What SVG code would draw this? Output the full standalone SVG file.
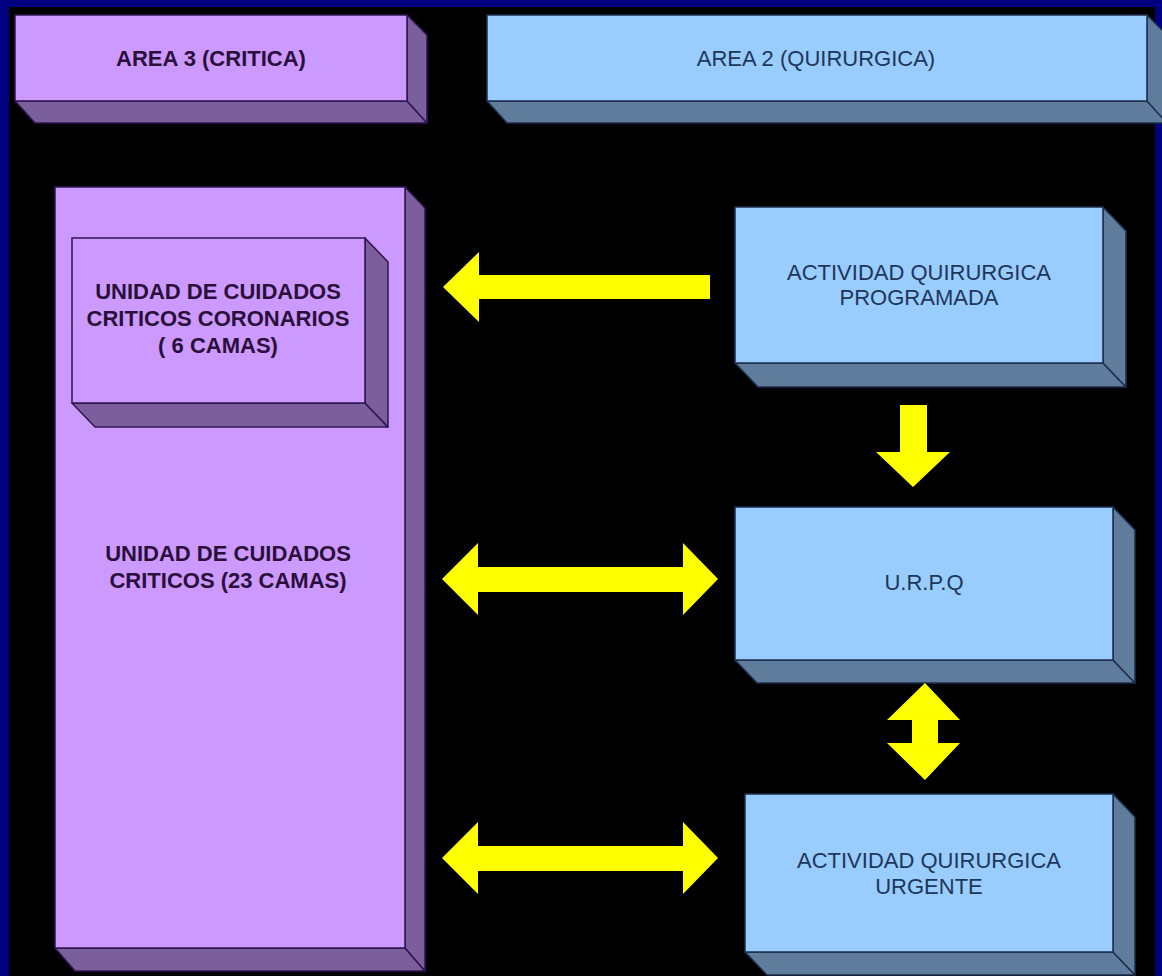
<svg xmlns="http://www.w3.org/2000/svg" width="1162" height="976" viewBox="0 0 1162 976">
  <defs>
    <style>
      .pf { fill: #CC99FF; stroke: #2E1450; stroke-width: 1.5; }
      .ps { fill: #7B5E9C; stroke: #2E1450; stroke-width: 1.5; stroke-linejoin: round; }
      .bf { fill: #99CCFF; stroke: #1C2E4C; stroke-width: 1.5; }
      .bs { fill: #5F7C9C; stroke: #1C2E4C; stroke-width: 1.5; stroke-linejoin: round; }
      .pt { font-family: "Liberation Sans", Arial, sans-serif; font-size: 22px; font-weight: bold; fill: #2A0F3A; text-anchor: middle; }
      .bt { font-family: "Liberation Sans", Arial, sans-serif; font-size: 22px; fill: #1E3658; text-anchor: middle; }
      .arrow { fill: #FFFF00; }
    </style>
  </defs>

  <!-- background: navy frame, black field -->
  <rect x="0" y="0" width="1162" height="976" fill="#000080"/>
  <rect x="9" y="7" width="1146" height="969" fill="#000000"/>

  <!-- AREA 3 header -->
  <g id="area3">
    <polygon class="ps" points="15,101 407,101 427,123 35,123"/>
    <polygon class="ps" points="407,15 427,35 427,123 407,101"/>
    <rect class="pf" x="15" y="15" width="392" height="86"/>
    <text class="pt" x="211" y="66">AREA 3 (CRITICA)</text>
  </g>

  <!-- AREA 2 header -->
  <g id="area2">
    <polygon class="bs" points="487,101 1147,101 1167,123 507,123"/>
    <polygon class="bs" points="1147,15 1167,35 1167,123 1147,101"/>
    <rect class="bf" x="487" y="15" width="660" height="86"/>
    <text class="bt" x="816" y="66">AREA 2 (QUIRURGICA)</text>
  </g>

  <!-- critical care unit (large) -->
  <g id="uci">
    <polygon class="ps" points="55,948 405,948 425,971 75,971"/>
    <polygon class="ps" points="405,187 425,208 425,971 405,948"/>
    <rect class="pf" x="55" y="187" width="350" height="761"/>
    <text class="pt" x="228" y="561">UNIDAD DE CUIDADOS</text>
    <text class="pt" x="228" y="588">CRITICOS (23 CAMAS)</text>
  </g>

  <!-- coronary care unit (inside) -->
  <g id="ucc">
    <polygon class="ps" points="72,403 365,403 388,427 95,427"/>
    <polygon class="ps" points="365,238 388,262 388,427 365,403"/>
    <rect class="pf" x="72" y="238" width="293" height="165"/>
    <text class="pt" x="218" y="299">UNIDAD DE CUIDADOS</text>
    <text class="pt" x="218" y="326">CRITICOS CORONARIOS</text>
    <text class="pt" x="218" y="353">( 6 CAMAS)</text>
  </g>

  <!-- scheduled surgery -->
  <g id="programada">
    <polygon class="bs" points="735,363 1103,363 1126,387 758,387"/>
    <polygon class="bs" points="1103,207 1126,231 1126,387 1103,363"/>
    <rect class="bf" x="735" y="207" width="368" height="156"/>
    <text class="bt" x="919" y="280">ACTIVIDAD QUIRURGICA</text>
    <text class="bt" x="919" y="305">PROGRAMADA</text>
  </g>

  <!-- U.R.P.Q -->
  <g id="urpq">
    <polygon class="bs" points="735,660 1113,660 1135,683 757,683"/>
    <polygon class="bs" points="1113,507 1135,530 1135,683 1113,660"/>
    <rect class="bf" x="735" y="507" width="378" height="153"/>
    <text class="bt" x="924" y="590">U.R.P.Q</text>
  </g>

  <!-- urgent surgery -->
  <g id="urgente">
    <polygon class="bs" points="745,952 1113,952 1135,975 767,975"/>
    <polygon class="bs" points="1113,794 1135,817 1135,975 1113,952"/>
    <rect class="bf" x="745" y="794" width="368" height="158"/>
    <text class="bt" x="929" y="868">ACTIVIDAD QUIRURGICA</text>
    <text class="bt" x="929" y="894">URGENTE</text>
  </g>

  <!-- connectors: block arrows -->
  <g id="connectors">
    <polygon class="arrow" points="443,287 479,252 479,275 710,275 710,299 479,299 479,322"/>
    <polygon class="arrow" points="900,405 927,405 927,452 950,452 913,487 876,452 900,452"/>
    <polygon class="arrow" points="442,579 478,543 478,567 683,567 683,543 718,579 683,615 683,592 478,592 478,615"/>
    <polygon class="arrow" points="925,683 960,720 938,720 938,743 960,743 925,780 887,743 912,743 912,720 887,720"/>
    <polygon class="arrow" points="442,858 478,822 478,846 683,846 683,822 718,858 683,894 683,871 478,871 478,894"/>
  </g>
</svg>
